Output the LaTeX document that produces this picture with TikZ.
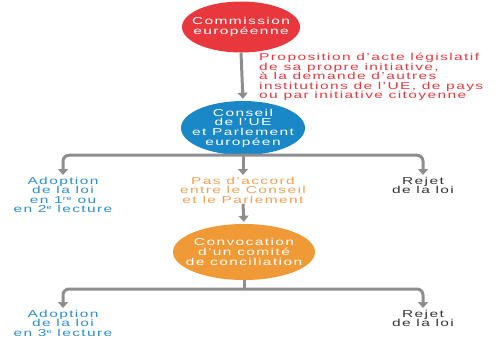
\documentclass[tikz,border=0pt]{standalone}
\usepackage{fontspec}
\setmainfont{Liberation Sans}[FakeStretch=1.55,LetterSpace=14]
\usetikzlibrary{shapes.geometric,arrows.meta}
\definecolor{cred}{HTML}{E8383D}
\definecolor{cblue}{HTML}{1A87C6}
\definecolor{corange}{HTML}{F09A37}
\definecolor{cgrey}{HTML}{8E8E8E}
\definecolor{tblue}{HTML}{2B8FD1}
\definecolor{torange}{HTML}{F2A050}
\definecolor{tdark}{HTML}{333333}
\newcommand{\supx}[1]{\smash{\raisebox{3pt}{\fontsize{6}{6}\selectfont #1}}}
\tikzset{
  bubble/.style={ellipse, draw=none, inner sep=0pt},
  btext/.style={align=center, inner sep=0pt, text=white,
    font=\fontsize{10}{9.7}\selectfont},
  label/.style={align=center, inner sep=0pt, font=\fontsize{10}{9.5}\selectfont},
  conn/.style={draw=cgrey, line width=3pt, rounded corners=6pt, shorten >=2pt,
    -{Triangle[width=10pt,length=6pt]}},
  plain/.style={draw=cgrey, line width=3pt}
}
\begin{document}
\begin{tikzpicture}[x=1pt,y=-1pt]
\useasboundingbox (0,0) rectangle (501,338);
\node[bubble, fill=cred, minimum width=118pt, minimum height=51pt] (comm) at (241,27) {};
\node[btext] (commt) at (comm.center) {Commission\\européenne};
\node[bubble, fill=cblue, minimum width=124pt, minimum height=54pt] (cons) at (243,128) {};
\node[btext] (const) at (cons.center) {Conseil\\de l’UE\\et Parlement\\européen};
\node[bubble, fill=corange, minimum width=142pt, minimum height=56pt] (conv) at (244,252) {};
\node[btext] (convt) at (conv.center) {Convocation\\d’un comité\\de conciliation};
\node[label, align=left, anchor=west, text=cred] (prop) at (259,77) {Proposition d’acte législatif\\de sa propre initiative,\\à la demande d’autres\\institutions de l’UE, de pays\\ou par initiative citoyenne};
\node[label, text=tblue, anchor=north] (ad1) at (63,177) {Adoption\\de la loi\\en 1\supx{re} ou\\en 2\supx{e} lecture};
\node[label, text=torange, anchor=north] (pas) at (243,177) {Pas d’accord\\entre le Conseil\\et le Parlement};
\node[label, text=tdark, anchor=north] (rej1) at (423,177) {Rejet\\de la loi};
\node[label, text=tblue, anchor=north] (ad3) at (63,310) {Adoption\\de la loi\\en 3\supx{e} lecture};
\node[label, text=tdark, anchor=north] (rej2) at (423,310) {Rejet\\de la loi};
\coordinate (j2) at (244,289);
\draw[conn] (comm.south) -- (cons.north);
\draw[conn] (cons.south) -| (ad1.north);
\draw[conn] (cons.south) -| (rej1.north);
\draw[conn] (cons.south) -- (pas.north);
\draw[conn] (pas.south) -- (conv.north);
\draw[plain] (conv.south) -- (j2);
\draw[conn] (j2) -| (ad3.north);
\draw[conn] (j2) -| (rej2.north);
\end{tikzpicture}
\end{document}
